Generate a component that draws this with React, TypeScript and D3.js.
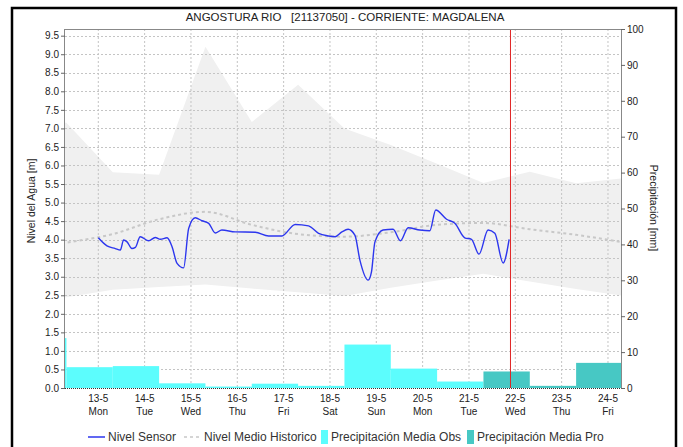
import { useRef, useEffect } from 'react';
import * as d3 from 'd3';

const W = 683;
const H = 447;
const M = { top: 29, right: 62, bottom: 59, left: 65 };

const TITLE = 'ANGOSTURA RIO   [21137050] - CORRIENTE: MAGDALENA';
const BASE = new Date(2024, 4, 13, 0, 0); // 13-5 Mon

// hours from 13-5 00:00
const domainHours = [-17.25, 270.75];
const nowHour = 213.5;

// sensor level [h, m]
const sensorHours = [0, 4.5, 8.8, 11.4, 13.1, 14.9, 17.4, 19.2, 21.7, 26.1, 29.5, 32.1, 35.6, 38.2, 40.8, 44.2, 46.8, 50.2, 53.7, 57.2, 60.6, 64, 70.9, 81.3, 88.2, 95.1, 102, 108.9, 114.1, 119.3, 122.7, 126.2, 129.4, 132.9, 135.5, 139.8, 141.5, 143.3, 147.5, 152.7, 156.5, 160.5, 166.5, 171.7, 174.8, 180.4, 184.7, 189.8, 193.3, 197.2, 201.9, 205.4, 209.7, 212.8];
const sensorLevel = [4.05, 3.83, 3.76, 3.72, 3.99, 3.94, 3.76, 3.79, 4.08, 3.97, 4.06, 4.01, 4.05, 3.81, 3.36, 3.24, 4.3, 4.59, 4.51, 4.44, 4.18, 4.26, 4.21, 4.2, 4.1, 4.1, 4.41, 4.37, 4.17, 4.1, 4.08, 4.21, 4.28, 4.12, 3.45, 2.91, 3.13, 3.94, 4.26, 4.28, 3.97, 4.32, 4.26, 4.24, 4.8, 4.55, 4.44, 4.05, 4.01, 3.61, 4.26, 4.17, 3.37, 4.01];

// daily historic values (day boundaries at 07:30)
const histHours = [-40.5, -16.5, 7.5, 31.5, 55.5, 79.5, 103.5, 127.5, 151.5, 175.5, 199.5, 223.5, 247.5, 271.5];
const histMax = [7.3, 7.15, 5.82, 5.75, 9.2, 7.17, 8.18, 7.0, 6.55, 6.05, 5.53, 5.83, 5.52, 5.65];
const histMin = [2.35, 2.45, 2.65, 2.72, 2.79, 2.68, 2.58, 2.48, 2.7, 2.9, 3.08, 2.87, 2.67, 2.49];
const histMean = [3.75, 3.92, 4.15, 4.55, 4.75, 4.4, 4.15, 4.08, 4.2, 4.4, 4.45, 4.28, 4.13, 3.93];

// precipitation [mm], bars start at day boundary
const obsStart = [-40.5, -16.5, 7.5, 31.5, 55.5, 79.5, 103.5, 127.5, 151.5, 175.5];
const obsPrecip = [13.9, 5.8, 6.1, 1.3, 0.4, 1.2, 0.6, 12.1, 5.4, 1.8];
const proStart = [199.5, 223.5, 247.5];
const proPrecip = [4.6, 0.6, 7.0];

const levelTicks = d3.range(0, 9.51, 0.5);
const precipTicks = d3.range(0, 101, 10);

const FONT = '"Liberation Sans", Arial, sans-serif';
const C_OBS = '#5cfdfd';
const C_PRO = '#47c8c4';

const toDate = (h: number) => new Date(BASE.getTime() + h * 3600 * 1000);

export default function App() {
  const svgRef = useRef<SVGSVGElement | null>(null);

  useEffect(() => {
    if (!svgRef.current) return;
    const svg = d3.select(svgRef.current);
    svg.selectAll('*').remove();

    const x0 = M.left;
    const x1 = W - M.right;
    const y0 = H - M.bottom;
    const y1 = M.top;

    const x = d3.scaleTime().domain(domainHours.map(toDate)).range([x0, x1]);
    const yL = d3.scaleLinear().domain([0, 9.68]).range([y0, y1]);
    const yR = d3.scaleLinear().domain([0, 100]).range([y0, y1]);

    svg.append('rect').attr('width', W).attr('height', H).attr('fill', '#fff');

    // outer frame
    svg.append('rect')
      .attr('x', 12).attr('y', 8).attr('width', 664).attr('height', H + 20)
      .attr('fill', 'none').attr('stroke', '#000').attr('stroke-width', 2.5);

    svg.append('defs').append('clipPath').attr('id', 'plot')
      .append('rect').attr('x', x0).attr('y', y1).attr('width', x1 - x0).attr('height', y0 - y1);

    const plot = svg.append('g').attr('clip-path', 'url(#plot)');

    // historic band
    const band = d3.area<number>()
      .x((_, i) => x(toDate(histHours[i])))
      .y0((_, i) => yL(histMin[i]))
      .y1((_, i) => yL(histMax[i]));
    plot.append('path').datum(histHours).attr('d', band).attr('fill', '#f0f0f0');

    // grid
    const days = d3.timeDay.range(toDate(0), toDate(265));
    plot.append('g').selectAll('line').data(days).join('line')
      .attr('x1', (d) => x(d)).attr('x2', (d) => x(d))
      .attr('y1', y1).attr('y2', y0)
      .attr('stroke', '#c4c4c4').attr('stroke-dasharray', '2,2');
    plot.append('g').selectAll('line').data(levelTicks.slice(1)).join('line')
      .attr('x1', x0).attr('x2', x1)
      .attr('y1', (d) => Math.round(yL(d)) + 0.5).attr('y2', (d) => Math.round(yL(d)) + 0.5)
      .attr('stroke', '#c4c4c4').attr('stroke-dasharray', '2,2');

    // precipitation bars
    const bar = (starts: number[], vals: number[], color: string) => {
      plot.append('g').selectAll('rect').data(starts).join('rect')
        .attr('x', (d) => x(toDate(d)))
        .attr('width', (d) => x(toDate(d + 24)) - x(toDate(d)))
        .attr('y', (_, i) => yR(vals[i]))
        .attr('height', (_, i) => y0 - yR(vals[i]))
        .attr('fill', color);
    };
    bar(obsStart, obsPrecip, C_OBS);
    bar(proStart, proPrecip, C_PRO);

    // historic mean
    const meanLine = d3.line<number>()
      .x((_, i) => x(toDate(histHours[i])))
      .y((_, i) => yL(histMean[i]))
      .curve(d3.curveMonotoneX);
    plot.append('path').datum(histHours).attr('d', meanLine)
      .attr('fill', 'none').attr('stroke', '#c8c8c8').attr('stroke-width', 2)
      .attr('stroke-dasharray', '3,3');

    // sensor
    const sensorLine = d3.line<number>()
      .x((_, i) => x(toDate(sensorHours[i])))
      .y((_, i) => yL(sensorLevel[i]))
      .curve(d3.curveMonotoneX);
    plot.append('path').datum(sensorHours).attr('d', sensorLine)
      .attr('fill', 'none').attr('stroke', '#2c36ee').attr('stroke-width', 1.4);

    // now marker
    plot.append('line')
      .attr('x1', x(toDate(nowHour))).attr('x2', x(toDate(nowHour)))
      .attr('y1', y1).attr('y2', y0)
      .attr('stroke', '#e02424').attr('stroke-width', 1);

    // frame lines
    svg.append('line').attr('x1', x0).attr('x2', x1).attr('y1', y1 + 0.5).attr('y2', y1 + 0.5)
      .attr('stroke', '#888');
    svg.append('line').attr('x1', x0 - 0.5).attr('x2', x0 - 0.5).attr('y1', y1).attr('y2', y0)
      .attr('stroke', '#888');
    svg.append('line').attr('x1', x1 + 0.5).attr('x2', x1 + 0.5).attr('y1', y1).attr('y2', y0)
      .attr('stroke', '#888');
    svg.append('line').attr('x1', x0).attr('x2', x1).attr('y1', y0 + 0.5).attr('y2', y0 + 0.5)
      .attr('stroke', '#333').attr('stroke-dasharray', '1,1');

    // left axis
    const gl = svg.append('g').attr('transform', `translate(${x0},0)`)
      .call(d3.axisLeft(yL).tickValues(levelTicks).tickFormat(d3.format('.1f')).tickSize(4).tickPadding(2));
    gl.select('.domain').remove();
    gl.selectAll('line').attr('stroke', '#666');
    gl.selectAll('text').attr('font-family', FONT).attr('font-size', 10).attr('fill', '#222');

    // right axis
    const gr = svg.append('g').attr('transform', `translate(${x1},0)`)
      .call(d3.axisRight(yR).tickValues(precipTicks).tickSize(4).tickPadding(2));
    gr.select('.domain').remove();
    gr.selectAll('line').attr('stroke', '#666');
    gr.selectAll('text').attr('font-family', FONT).attr('font-size', 10).attr('fill', '#222');

    // x labels
    const fDay = d3.timeFormat('%-d-%-m');
    const fWd = d3.timeFormat('%a');
    const xl = svg.append('g').selectAll('g').data(days).join('g')
      .attr('transform', (d) => `translate(${x(d)},0)`)
      .attr('font-family', FONT).attr('font-size', 10).attr('fill', '#222').attr('text-anchor', 'middle');
    xl.append('text').attr('y', y0 + 14).text((d) => fDay(d));
    xl.append('text').attr('y', y0 + 27).text((d) => fWd(d));

    // titles
    svg.append('text').attr('x', 345).attr('y', 21).attr('text-anchor', 'middle')
      .attr('font-family', FONT).attr('font-size', 11.5).attr('fill', '#222')
      .attr('xml:space', 'preserve').style('white-space', 'pre').text(TITLE);
    svg.append('text').attr('transform', `translate(35,201) rotate(-90)`).attr('text-anchor', 'middle')
      .attr('font-family', FONT).attr('font-size', 10.5).attr('fill', '#222').text('Nivel del Agua [m]');
    svg.append('text').attr('transform', `translate(650,208) rotate(90)`).attr('text-anchor', 'middle')
      .attr('font-family', FONT).attr('font-size', 10.5).attr('fill', '#222').text('Precipitación [mm]');

    // legend
    const ly = 437;
    const lg = svg.append('g').attr('font-family', FONT).attr('font-size', 12).attr('fill', '#333');
    lg.append('line').attr('x1', 88).attr('x2', 105).attr('y1', ly).attr('y2', ly)
      .attr('stroke', '#2c36ee').attr('stroke-width', 1.5);
    lg.append('text').attr('x', 108).attr('y', ly + 4).text('Nivel Sensor');
    lg.append('line').attr('x1', 184).attr('x2', 201).attr('y1', ly).attr('y2', ly)
      .attr('stroke', '#c8c8c8').attr('stroke-width', 1.5).attr('stroke-dasharray', '3,3');
    lg.append('text').attr('x', 204).attr('y', ly + 4).text('Nivel Medio Historico');
    lg.append('rect').attr('x', 321).attr('y', ly - 7).attr('width', 7).attr('height', 14).attr('fill', C_OBS);
    lg.append('text').attr('x', 331).attr('y', ly + 4).text('Precipitación Media Obs');
    lg.append('rect').attr('x', 467).attr('y', ly - 7).attr('width', 7).attr('height', 14).attr('fill', C_PRO);
    lg.append('text').attr('x', 477).attr('y', ly + 4).text('Precipitación Media Pro');
  }, []);

  return (
    <svg ref={svgRef} width={W} height={H}
      style={{ position: 'absolute', left: 0, top: 0, display: 'block' }} />
  );
}
